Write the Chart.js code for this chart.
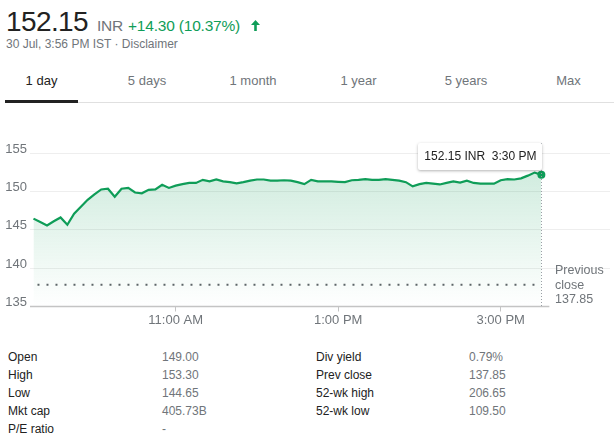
<!DOCTYPE html>
<html><head><meta charset="utf-8">
<script src="https://cdn.jsdelivr.net/npm/chart.js@4.4.0/dist/chart.umd.min.js"></script>
<style>
body{margin:0;width:614px;height:442px;position:relative;overflow:hidden;background:#fff;font-family:"Liberation Sans",Arial,sans-serif;}
.a{position:absolute;white-space:nowrap;line-height:1;}
.g{color:#70757a}
.d{color:#222}
#price{left:6px;top:8px;font-size:28px;color:#222;letter-spacing:-0.6px}
#cur{left:97px;top:18px;font-size:15.5px;letter-spacing:-0.2px}
#chg{left:128px;top:18px;font-size:15.5px;color:#0f9d58;letter-spacing:-0.2px}
#arrow{left:251px;top:20px}
#sub{left:6px;top:38px;font-size:12px}
.tab{top:74px;font-size:13px;transform:translateX(-50%)}
#ul{position:absolute;left:5px;top:100px;width:73px;height:3px;background:#222}
#hl{position:absolute;left:78px;top:102px;width:536px;height:1px;background:#e0e0e0}
#wrap{position:absolute;left:0;top:130px;width:614px;height:210px}
#tip{position:absolute;background:#fff;font-size:12px;color:#222;line-height:27px;height:27px;padding:0 6px;box-shadow:0 1px 3px rgba(0,0,0,.3);border-radius:2px;white-space:pre;}
#prev{left:555px;top:263px;font-size:12.5px;line-height:14.5px}
.t{font-size:12px}
</style></head>
<body>
<div class="a" id="price">152.15</div>
<div class="a g" id="cur">INR</div>
<div class="a" id="chg">+14.30 (10.37%)</div>
<svg class="a" id="arrow" width="9" height="11" viewBox="0 0 9 11"><path fill="#0f9d58" d="M4.5 0 L9 5 L5.8 5 L5.8 11 L3.2 11 L3.2 5 L0 5 Z"/></svg>
<div class="a g" id="sub">30 Jul, 3:56 PM IST · Disclaimer</div>

<div class="a tab d" style="left:41.5px">1 day</div>
<div class="a tab g" style="left:147px">5 days</div>
<div class="a tab g" style="left:253px">1 month</div>
<div class="a tab g" style="left:358.5px">1 year</div>
<div class="a tab g" style="left:466px">5 years</div>
<div class="a tab g" style="left:568.5px">Max</div>
<div id="hl"></div><div id="ul"></div>

<div id="wrap"><canvas id="c" width="614" height="210"></canvas></div>
<div id="tip"></div>
<div class="a g" id="prev">Previous<br>close<br>137.85</div>

<div class="a d t" style="left:8px;top:351px">Open</div>
<div class="a g t" style="left:162px;top:351px">149.00</div>
<div class="a d t" style="left:316px;top:351px">Div yield</div>
<div class="a g t" style="left:469px;top:351px">0.79%</div>
<div class="a d t" style="left:8px;top:369px">High</div>
<div class="a g t" style="left:162px;top:369px">153.30</div>
<div class="a d t" style="left:316px;top:369px">Prev close</div>
<div class="a g t" style="left:469px;top:369px">137.85</div>
<div class="a d t" style="left:8px;top:387px">Low</div>
<div class="a g t" style="left:162px;top:387px">144.65</div>
<div class="a d t" style="left:316px;top:387px">52-wk high</div>
<div class="a g t" style="left:469px;top:387px">206.65</div>
<div class="a d t" style="left:8px;top:405px">Mkt cap</div>
<div class="a g t" style="left:162px;top:405px">405.73B</div>
<div class="a d t" style="left:316px;top:405px">52-wk low</div>
<div class="a g t" style="left:469px;top:405px">109.50</div>
<div class="a d t" style="left:8px;top:423px">P/E ratio</div>
<div class="a g t" style="left:162px;top:423px">-</div>

<script>
const times = ["09:15","09:20","09:25","09:30","09:35","09:40","09:45","09:50","09:55",
"10:00","10:05","10:10","10:15","10:20","10:25","10:30","10:35","10:40","10:45","10:50","10:55",
"11:00","11:05","11:10","11:15","11:20","11:25","11:30","11:35","11:40","11:45","11:50","11:55",
"12:00","12:05","12:10","12:15","12:20","12:25","12:30","12:35","12:40","12:45","12:50","12:55",
"13:00","13:05","13:10","13:15","13:20","13:25","13:30","13:35","13:40","13:45","13:50","13:55",
"14:00","14:05","14:10","14:15","14:20","14:25","14:30","14:35","14:40","14:45","14:50","14:55",
"15:00","15:05","15:10","15:15","15:20","15:25","15:30"];
const prices = [146.45,146.0,145.55,146.1,146.6,145.65,147.1,148.0,148.9,
149.6,150.25,150.35,149.3,150.35,150.45,149.85,149.75,150.2,150.25,150.85,150.45,
150.75,150.95,151.1,151.1,151.5,151.3,151.55,151.3,151.2,151.05,151.2,151.4,
151.55,151.55,151.4,151.4,151.45,151.4,151.2,150.95,151.5,151.3,151.3,151.3,
151.25,151.2,151.45,151.5,151.6,151.5,151.5,151.6,151.5,151.4,151.2,150.65,
150.95,151.1,151.0,150.9,151.1,151.3,151.15,151.4,151.1,151.0,151.0,151.0,
151.45,151.6,151.55,151.7,152.05,152.45,152.15];
const prevClose = 137.85;
const yTicks = [135,140,145,150,155];
const xTickTimes = ["11:00","13:00","15:00"];
const xTickLabels = ["11:00 AM","1:00 PM","3:00 PM"];
const tipText = "152.15 INR  3:30 PM";

const toMin = s => { const [h,m] = s.split(":").map(Number); return h*60+m; };
const pts = times.map((t,i)=>({x:toMin(t), y:prices[i]}));
const prevPts = [{x:toMin(times[0]), y:prevClose},{x:toMin(times[times.length-1]), y:prevClose}];
const last = pts.length-1;
const GREEN = '#0f9d58';

const overlay = {
  id:'overlay',
  afterDraw(chart){
    const c = chart.ctx, xs = chart.scales.x, a = chart.chartArea;
    const px = xs.getPixelForValue(pts[last].x);
    c.save();
    c.strokeStyle = '#c4c4c4'; c.lineWidth = 1.5;
    c.beginPath(); c.moveTo(a.left, a.bottom); c.lineTo(px+8, a.bottom); c.stroke();
    c.strokeStyle = '#9aa0a6'; c.lineWidth = 1; c.setLineDash([1,2]);
    c.beginPath(); c.moveTo(Math.round(px)+0.5, 13); c.lineTo(Math.round(px)+0.5, a.bottom); c.stroke();
    c.restore();
    const tip = document.getElementById('tip');
    tip.textContent = tipText;
    const w = tip.offsetWidth;
    tip.style.left = (px + 1 - w) + 'px';
    tip.style.top = '143px';
  }
};

new Chart(document.getElementById('c'), {
  type:'line',
  data:{datasets:[
    {data:pts, borderColor:GREEN, borderWidth:2.2, tension:0,
     pointRadius:ctx=>ctx.dataIndex===last?4:0, pointBackgroundColor:GREEN, pointBorderWidth:0, pointHoverRadius:0,
     fill:'start',
     backgroundColor:(ctx)=>{ const ch=ctx.chart, a=ch.chartArea; if(!a) return 'rgba(0,0,0,0)';
       const g=ch.ctx.createLinearGradient(0,a.top,0,a.bottom);
       g.addColorStop(0,'rgba(15,157,88,0.22)'); g.addColorStop(1,'rgba(15,157,88,0)'); return g; }},
    {data:prevPts, borderColor:'#5f6368', borderWidth:2, borderDash:[2,7], borderDashOffset:-4, pointRadius:0, fill:false, tension:0}
  ]},
  options:{
    responsive:false, animation:false, devicePixelRatio:1, events:[],
    layout:{padding:{top:23,right:0,left:0,bottom:0}},
    plugins:{legend:{display:false}, tooltip:{enabled:false}},
    scales:{
      x:{type:'linear', min:552.43, max:980.68,
        afterBuildTicks:s=>{ s.ticks = xTickTimes.map(t=>({value:toMin(t)})); },
        afterFit:s=>{ s.height = 33.5; },
        ticks:{autoSkip:false, maxRotation:0, padding:1, color:'#70757a', font:{family:'Liberation Sans', size:13},
          callback:(v)=>{ const i = xTickTimes.findIndex(t=>toMin(t)===v); return i>=0?xTickLabels[i]:''; }},
        grid:{drawOnChartArea:false, drawTicks:true, tickLength:5, color:'#c4c4c4'},
        border:{display:false}},
      y:{min:135, max:155,
        afterBuildTicks:s=>{ s.ticks = yTicks.map(v=>({value:v})); },
        afterFit:s=>{ s.width = 30; },
        ticks:{padding:3, labelOffset:-4, color:'#70757a', font:{family:'Liberation Sans', size:13}},
        grid:{drawTicks:false, color:(ctx)=>ctx.tick && ctx.tick.value===135?'rgba(0,0,0,0)':'#eeeeee'},
        border:{display:false}}
    }
  },
  plugins:[overlay]
});
</script>
</body></html>
